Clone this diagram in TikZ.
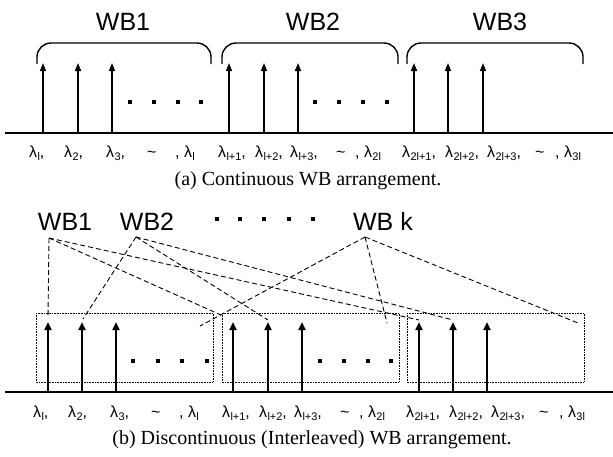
\documentclass[tikz,border=0pt]{standalone}
\usepackage{fontspec}
\setmainfont{Liberation Serif}
\setsansfont{Liberation Sans}
\usetikzlibrary{arrows.meta}
\newcommand{\lm}[1]{λ\kern0.3pt\raisebox{-3pt}{\fontsize{11}{11}\selectfont #1}}
\tikzset{
  wbtitle/.style={font=\sffamily\fontsize{25}{25}\selectfont, inner sep=0pt, anchor=base},
  lab/.style={font=\sffamily\fontsize{16}{16}\selectfont, inner sep=0pt, anchor=base west},
  capt/.style={font=\fontsize{20}{20}\selectfont, inner sep=0pt, anchor=base},
  axisline/.style={line width=2pt},
  wlA/.style={line width=1.5pt, -{Triangle[length=8pt,width=6pt]}},
  wlB/.style={line width=2.2pt, -{Triangle[length=8pt,width=7pt]}},
  brace/.style={line width=1.4pt, rounded corners=14pt},
  dsh/.style={line width=0.9pt, dash pattern=on 5pt off 3pt},
  dotbox/.style={line width=0.7pt, dash pattern=on 0.8pt off 0.8pt},
  sq/.style={fill, minimum size=4pt, inner sep=0pt},
}
\begin{document}
\begin{tikzpicture}[x=1pt,y=-1pt]
\useasboundingbox (0,0) rectangle (613,456);
% ---------- (a) ----------
\node[wbtitle] (ta1) at (123,30) {WB1};
\node[wbtitle] (ta2) at (313,30) {WB2};
\node[wbtitle] (ta3) at (500,30) {WB3};
\draw[brace] (37,64) -- (37,43) -- (211,43) -- (211,64);
\draw[brace] (222,64) -- (222,43) -- (398,43) -- (398,64);
\draw[brace] (407,64) -- (407,43) -- (583,43) -- (583,64);
\coordinate (axA0) at (5,133);
\coordinate (axA1) at (613,133);
\draw[axisline] (axA0) -- (axA1);
\foreach \x [count=\i] in {43,78,112,229,264,298,414,448,483}{
  \coordinate (ab\i) at (\x,133);
  \coordinate (at\i) at (\x,63);
  \draw[wlA] (ab\i) -- (at\i);
}
\foreach \x [count=\i] in {130,154,178,201,315,339,363,387}
  \node[sq] (da\i) at (\x,102) {};
\node[lab] (la1) at (29,157) {\lm{l},};
\node[lab] (la2) at (64,157) {\lm{2},};
\node[lab] (la3) at (106,157) {\lm{3},};
\node[lab] (la4) at (147,157) {\char`\~};
\node[lab] (la5) at (175,157) {, \lm{l}};
\node[lab] (la6) at (218,157) {\lm{l+1},};
\node[lab] (la7) at (255,157) {\lm{l+2},};
\node[lab] (la8) at (290,157) {\lm{l+3},};
\node[lab] (la9) at (336,157) {\char`\~};
\node[lab] (la10) at (355,157) {, \lm{2l}};
\node[lab] (la11) at (402,157) {\lm{2l+1},};
\node[lab] (la12) at (445,157) {\lm{2l+2},};
\node[lab] (la13) at (487,157) {\lm{2l+3},};
\node[lab] (la14) at (535,157) {\char`\~};
\node[lab] (la15) at (555,157) {, \lm{3l}};
\node[capt] (capa) at (308,185) {(a) Continuous WB arrangement.};
% ---------- (b) ----------
\node[wbtitle] (tb1) at (65,230) {WB1};
\node[wbtitle] (tb2) at (147,230) {WB2};
\node[wbtitle] (tbk) at (383,230) {WB k};
\foreach \x [count=\i] in {217,240,264,289,313}
  \node[sq] (dt\i) at (\x,219) {};
\draw[dotbox] (36,313) rectangle (213,382);
\draw[dotbox] (222,313) rectangle (399,382);
\draw[dotbox] (407,313) rectangle (584,382);
\coordinate (axB0) at (5,392);
\coordinate (axB1) at (613,392);
\draw[axisline, line width=2.4pt] (axB0) -- (axB1);
\foreach \x [count=\i] in {48,82,116,233,268,302,419,453,487}{
  \coordinate (bb\i) at (\x,392);
  \coordinate (bt\i) at (\x,322);
  \draw[wlB] (bb\i) -- (bt\i);
}
\foreach \x [count=\i] in {133,158,182,207,320,344,368,391}
  \node[sq] (db\i) at (\x,361) {};
% sources
\coordinate (s1) at (49,238);
\coordinate (s2) at (136,237);
\coordinate (sk) at (365,237);
% ends
\coordinate (e11) at (48,318);
\coordinate (e12) at (221,315);
\coordinate (e13) at (419,320);
\coordinate (e21) at (83,319);
\coordinate (e22) at (268,320);
\coordinate (e23) at (453,320);
\coordinate (ek1) at (200,326);
\coordinate (ek2) at (387,323);
\coordinate (ek3) at (578,323);
\foreach \s/\e in {s1/e11,s1/e12,s1/e13,s2/e21,s2/e22,s2/e23,sk/ek1,sk/ek2,sk/ek3}
  \draw[dsh] (\s) -- (\e);
\node[lab] (lb1) at (33,417) {\lm{l},};
\node[lab] (lb2) at (68,417) {\lm{2},};
\node[lab] (lb3) at (110,417) {\lm{3},};
\node[lab] (lb4) at (151,417) {\char`\~};
\node[lab] (lb5) at (179,417) {, \lm{l}};
\node[lab] (lb6) at (222,417) {\lm{l+1},};
\node[lab] (lb7) at (259,417) {\lm{l+2},};
\node[lab] (lb8) at (294,417) {\lm{l+3},};
\node[lab] (lb9) at (340,417) {\char`\~};
\node[lab] (lb10) at (359,417) {, \lm{2l}};
\node[lab] (lb11) at (406,417) {\lm{2l+1},};
\node[lab] (lb12) at (449,417) {\lm{2l+2},};
\node[lab] (lb13) at (491,417) {\lm{2l+3},};
\node[lab] (lb14) at (539,417) {\char`\~};
\node[lab] (lb15) at (559,417) {, \lm{3l}};
\node[capt] (capb) at (312,444) {(b) Discontinuous (Interleaved) WB arrangement.};
\end{tikzpicture}
\end{document}
